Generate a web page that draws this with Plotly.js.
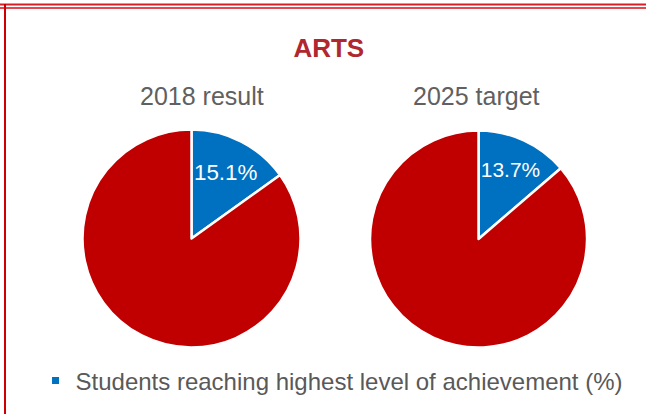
<!DOCTYPE html>
<html>
<head>
<meta charset="utf-8">
<script src="https://cdn.plot.ly/plotly-3.0.1.min.js"></script>
<style>html,body{margin:0;padding:0;background:#fff;}</style>
</head>
<body>
<div id="chart" style="width:646px;height:414px;"></div>
<script>
const chartTitle = "ARTS";
const pieTitles = ["2018 result", "2025 target"];
const sliceLabels = ["Students reaching highest level of achievement (%)", "Other students (%)"];
const result2018 = [15.1, 84.9];
const target2025 = [13.7, 86.3];
const sliceColors = ["#0070c0", "#c00000"];

function pctText(vals) { return vals.map((v, i) => i === 0 ? v.toFixed(1) + "%" : ""); }

const common = {
  type: "pie",
  labels: sliceLabels,
  sort: false,
  direction: "clockwise",
  rotation: 0,
  textinfo: "text",
  textposition: "inside",
  insidetextorientation: "horizontal",
  textfont: {family: "Liberation Sans, Arial, sans-serif", size: 23, color: "#ffffff"},
  marker: {colors: sliceColors, line: {color: "#ffffff", width: 2.5}},
  showlegend: false,
  hoverinfo: "label+percent"
};

const data = [
  Object.assign({}, common, {values: result2018, text: pctText(result2018), name: pieTitles[0],
    domain: {x: [0.1277, 0.4652], y: [0.1606, 0.6872]}}),
  Object.assign({}, common, {values: target2025, text: pctText(target2025), name: pieTitles[1],
    domain: {x: [0.5728, 0.9087], y: [0.1606, 0.6848]}}),
  {type: "scatter", mode: "markers", x: [null], y: [null], name: sliceLabels[0],
   marker: {symbol: "square", size: 7, color: sliceColors[0]}, showlegend: true, hoverinfo: "skip"}
];

const layout = {
  width: 646, height: 414,
  margin: {l: 0, r: 0, t: 0, b: 0},
  paper_bgcolor: "#ffffff", plot_bgcolor: "#ffffff",
  font: {family: "Liberation Sans, Arial, sans-serif", color: "#595959"},
  title: {text: "<b>" + chartTitle + "</b>", x: 0.509, xanchor: "center", y: 0.884, yanchor: "middle",
          font: {size: 26, color: "#b0272f", family: "Liberation Sans, Arial, sans-serif"}},
  xaxis: {visible: false}, yaxis: {visible: false},
  showlegend: true,
  legend: {x: 0.055, xanchor: "left", y: 0.0797, yanchor: "middle", orientation: "h",
           bgcolor: "rgba(0,0,0,0)", font: {size: 24, color: "#595959"}},
  annotations: [
    {text: pieTitles[0], x: 0.313, y: 0.768, xref: "paper", yref: "paper", showarrow: false,
     xanchor: "center", yanchor: "middle", font: {size: 25, color: "#606060"}},
    {text: pieTitles[1], x: 0.737, y: 0.768, xref: "paper", yref: "paper", showarrow: false,
     xanchor: "center", yanchor: "middle", font: {size: 25, color: "#606060"}}
  ],
  shapes: [
    {type: "line", xref: "paper", yref: "paper", x0: 0, x1: 1, y0: 1 - 4.5/414, y1: 1 - 4.5/414,
     line: {color: "#d81f26", width: 2}},
    {type: "line", xref: "paper", yref: "paper", x0: 0, x1: 1, y0: 1 - 8/414, y1: 1 - 8/414,
     line: {color: "#e04a50", width: 2}},
    {type: "line", xref: "paper", yref: "paper", x0: 5/646, x1: 5/646, y0: 0, y1: 1 - 4/414,
     line: {color: "#cc0000", width: 2}}
  ]
};

Plotly.newPlot("chart", data, layout, {displayModeBar: false, staticPlot: true});
</script>
</body>
</html>
